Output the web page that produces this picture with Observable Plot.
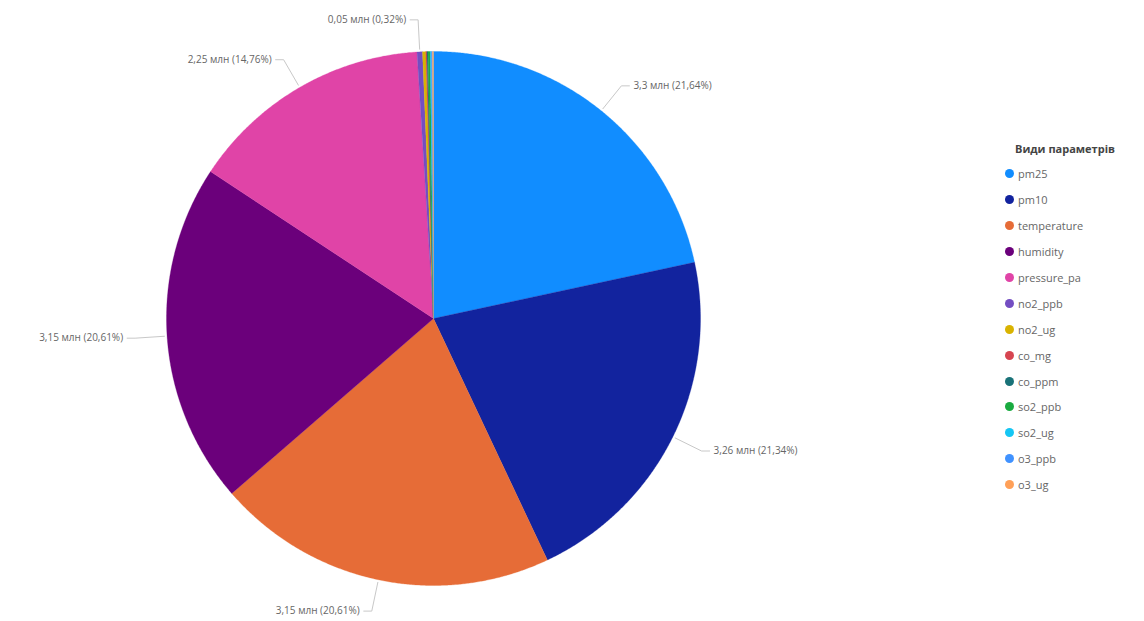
<!DOCTYPE html>
<html>
<head>
<meta charset="utf-8">
<script src="https://cdn.jsdelivr.net/npm/d3@7"></script>
<script src="https://cdn.jsdelivr.net/npm/@observablehq/plot@0.6"></script>
<style>
  html, body { margin: 0; padding: 0; background: #fff; }
  #wrap { position: relative; width: 1144px; height: 621px; overflow: hidden; font-family: "Open Sans", "Noto Sans", sans-serif; }
  #legend { position: absolute; left: 1005px; top: 141px; font-size: 11px; color: #666; }
  #legend .title { font-weight: bold; color: #444; margin-bottom: 5px; margin-left: 10px; }
  #legend .item { display: flex; align-items: center; height: 25.9px; }
  #legend .sw { width: 9px; height: 9px; border-radius: 50%; margin-right: 4px; }
</style>
</head>
<body>
<div id="wrap"><div id="chart"></div><div id="legend"></div></div>
<script>
// ---- data ----
const categories = ["pm25", "pm10", "temperature", "humidity", "pressure_pa", "no2_ppb", "no2_ug", "co_mg", "co_ppm", "so2_ppb", "so2_ug", "o3_ppb", "o3_ug"];
const values = [3.30, 3.26, 3.15, 3.15, 2.25, 0.05, 0.03, 0.01, 0.01, 0.02, 0.01, 0.01, 0.01]; // млн
const colors = ["#118DFF", "#12239E", "#E66C37", "#6B007B", "#E044A7", "#744EC2", "#D9B300", "#D64550", "#197278", "#1AAB40", "#15C6F4", "#4092FF", "#FFA058"];
const sliceLabels = ["3,3 млн (21,64%)", "3,26 млн (21,34%)", "3,15 млн (20,61%)", "3,15 млн (20,61%)", "2,25 млн (14,76%)", "0,05 млн (0,32%)", null, null, null, null, null, null, null];
const legendTitle = "Види параметрів";

// ---- geometry via d3.pie ----
const W = 1144, H = 621, cx = 433, cy = 318, R = 267;
const arcs = d3.pie().sort(null).value(d => d)(values);
const slicePts = [];
arcs.forEach((a, i) => {
  slicePts.push({k: categories[i], x: 0, y: 0});
  const n = Math.max(2, Math.ceil((a.endAngle - a.startAngle) / 0.005));
  for (let j = 0; j <= n; j++) {
    const t = a.startAngle + (a.endAngle - a.startAngle) * j / n;
    slicePts.push({k: categories[i], x: Math.sin(t), y: Math.cos(t)});
  }
  slicePts.push({k: categories[i], x: 0, y: 0});
});

const labelRows = [], leaderPts = [];
arcs.forEach((a, i) => {
  if (!sliceLabels[i]) return;
  const m = (a.startAngle + a.endAngle) / 2;
  const sx = Math.sin(m), sy = Math.cos(m);
  const right = sx >= 0;
  const ex = sx * 1.12, ey = sy * 1.12;
  const hx = ex + (right ? 0.03 : -0.03);
  leaderPts.push({k: categories[i], x: sx * 1.01, y: sy * 1.01});
  leaderPts.push({k: categories[i], x: ex, y: ey});
  leaderPts.push({k: categories[i], x: hx, y: ey});
  labelRows.push({x: hx + (right ? 0.015 : -0.015), y: ey, t: sliceLabels[i], anchor: right ? "start" : "end"});
});

const xd = [-cx / R, (W - cx) / R];
const yd = [-(H - cy) / R, cy / R];

const chart = Plot.plot({
  width: W, height: H,
  margin: 0,
  x: {domain: xd, axis: null},
  y: {domain: yd, axis: null},
  color: {domain: categories, range: colors},
  style: {fontFamily: "'Open Sans', 'Noto Sans', sans-serif", background: "#fff"},
  marks: [
    Plot.line(slicePts, {x: "x", y: "y", z: "k", fill: "k", stroke: "k", strokeWidth: 0.3, curve: "linear-closed"}),
    Plot.line(leaderPts, {x: "x", y: "y", z: "k", stroke: "#c8c8c8", strokeWidth: 1}),
    Plot.text(labelRows.filter(d => d.anchor === "start"), {x: "x", y: "y", text: "t", textAnchor: "start", fontSize: 10, fill: "#666"}),
    Plot.text(labelRows.filter(d => d.anchor === "end"), {x: "x", y: "y", text: "t", textAnchor: "end", fontSize: 10, fill: "#666"})
  ]
});
document.getElementById("chart").appendChild(chart);

// ---- legend ----
const lg = document.getElementById("legend");
const tt = document.createElement("div"); tt.className = "title"; tt.textContent = legendTitle; lg.appendChild(tt);
categories.forEach((c, i) => {
  const it = document.createElement("div"); it.className = "item";
  const sw = document.createElement("span"); sw.className = "sw"; sw.style.background = colors[i];
  const tx = document.createElement("span"); tx.textContent = c;
  it.appendChild(sw); it.appendChild(tx); lg.appendChild(it);
});
</script>
</body>
</html>
